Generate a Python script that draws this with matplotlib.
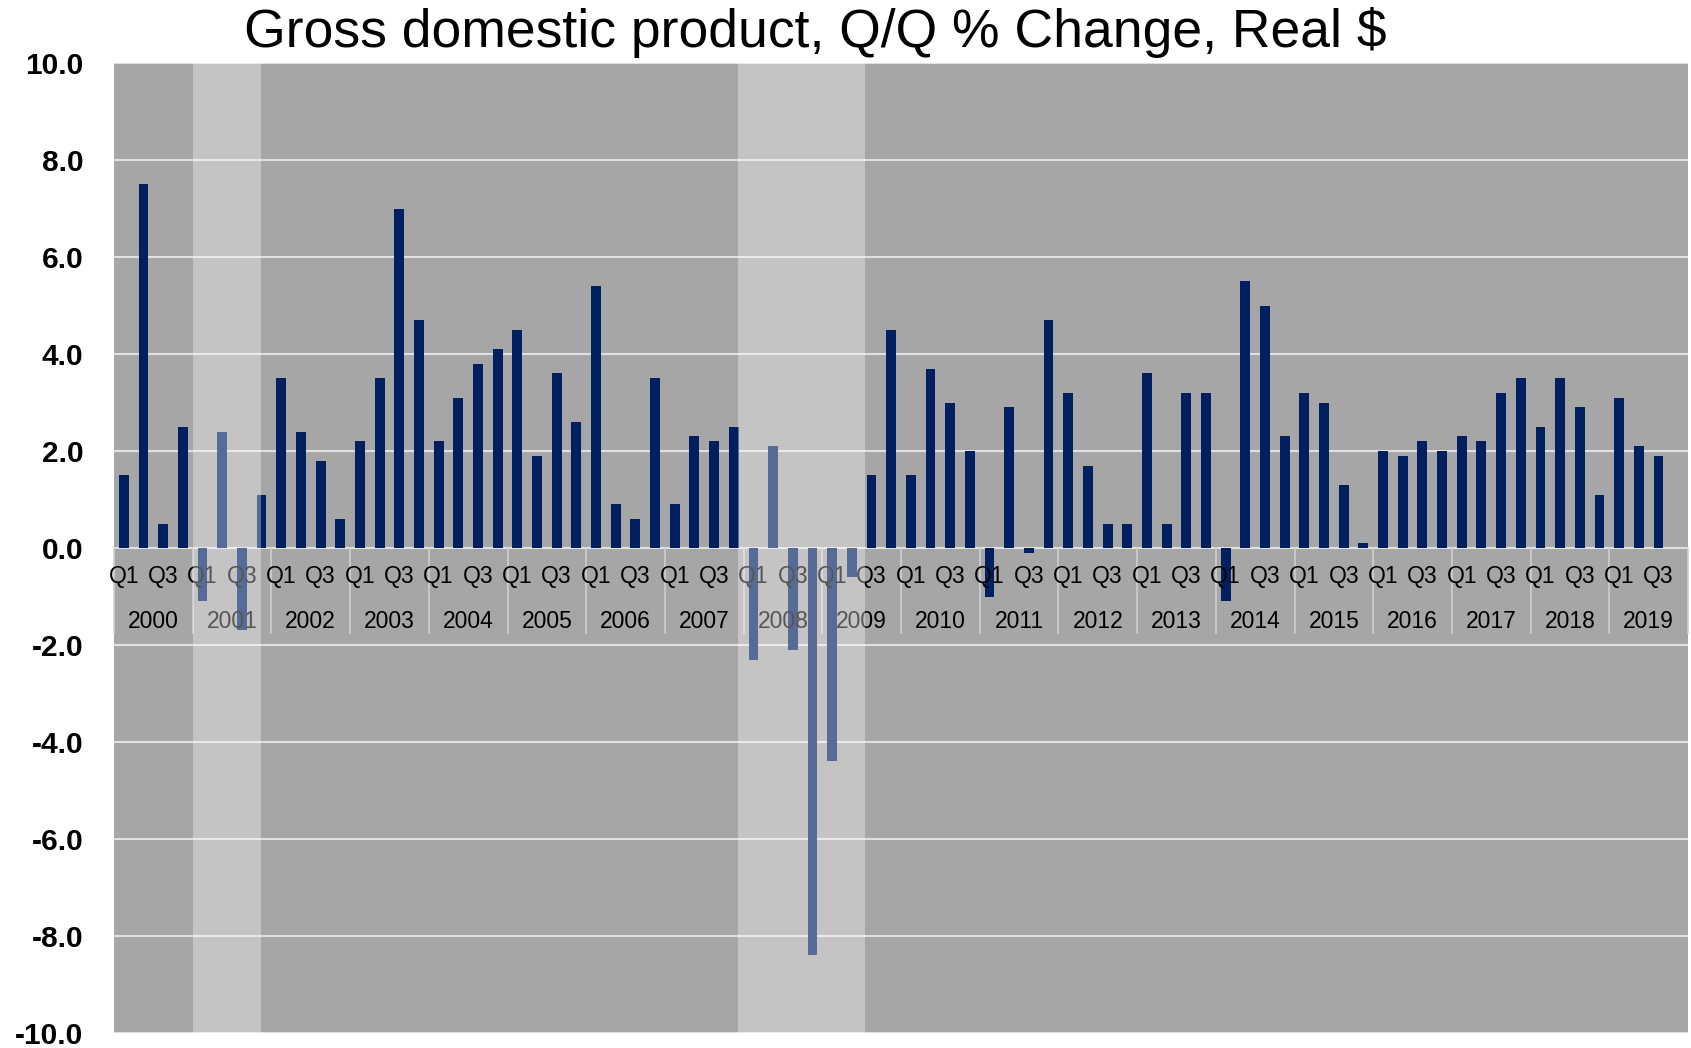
import matplotlib
matplotlib.use("Agg")
import matplotlib.pyplot as plt
import numpy as np

plt.rcParams['font.family'] = ['Liberation Sans', 'DejaVu Sans']

# GDP growth, Q/Q % change (annualized), 2000 Q1 .. 2019 Q3
years = list(range(2000, 2020))
gdp = [1.5, 7.5, 0.5, 2.5,
       -1.1, 2.4, -1.7, 1.1,
       3.5, 2.4, 1.8, 0.6,
       2.2, 3.5, 7.0, 4.7,
       2.2, 3.1, 3.8, 4.1,
       4.5, 1.9, 3.6, 2.6,
       5.4, 0.9, 0.6, 3.5,
       0.9, 2.3, 2.2, 2.5,
       -2.3, 2.1, -2.1, -8.4,
       -4.4, -0.6, 1.5, 4.5,
       1.5, 3.7, 3.0, 2.0,
       -1.0, 2.9, -0.1, 4.7,
       3.2, 1.7, 0.5, 0.5,
       3.6, 0.5, 3.2, 3.2,
       -1.1, 5.5, 5.0, 2.3,
       3.2, 3.0, 1.3, 0.1,
       2.0, 1.9, 2.2, 2.0,
       2.3, 2.2, 3.2, 3.5,
       2.5, 3.5, 2.9, 1.1,
       3.1, 2.1, 1.9]
quarter_labels = ['Q1', '', 'Q3', '']
# recession periods as fractional years
recessions = [(2001.0, 2001.865), (2007.93, 2009.54)]

n_slots = len(years) * 4
x = np.arange(len(gdp))

fig = plt.figure(figsize=(16.91, 10.48), dpi=100)
ax = fig.add_axes([114 / 1691, 15 / 1048, 1574 / 1691, 970 / 1048])
ax.set_facecolor('#a6a6a6')

ax.bar(x, gdp, width=0.5, color='#002060', zorder=3)

ax.set_xlim(-0.5, n_slots - 0.5)
ax.set_ylim(-10, 10)
ax.set_yticks(np.arange(-10, 10.1, 2))
ax.set_yticklabels([f"{v:.1f}" for v in np.arange(-10, 10.1, 2)],
                   fontsize=21.5, fontweight='bold')
ax.tick_params(axis='y', length=0, pad=22)
ax.set_xticks([])
ax.yaxis.grid(True, color='#e0e0e0', linewidth=1.5, zorder=1)
ax.set_axisbelow(True)
for s in ax.spines.values():
    s.set_visible(False)

# category axis drawn at the zero line
for k in range(len(years) + 1):
    ax.plot([4 * k - 0.5, 4 * k - 0.5], [0, -1.75], color='#d0d0d0',
            linewidth=1.2, zorder=2, clip_on=False)
for i in range(n_slots):
    lab = quarter_labels[i % 4]
    if lab and i < len(gdp):
        ax.text(i, -0.58, lab, ha='center', va='center', fontsize=16.5,
                color='black', zorder=4)
for k, yr in enumerate(years):
    ax.text(4 * k + 1.5, -1.51, str(yr), ha='center', va='center',
            fontsize=16.5, color='black', zorder=4)

# recession shading over everything
for start, end in recessions:
    x0 = (start - 2000) * 4 - 0.5
    x1 = (end - 2000) * 4 - 0.5
    ax.axvspan(x0, x1, color='white', alpha=0.34, linewidth=0, zorder=10)

fig.text(815 / 1691, 1 - 46.7 / 1048, "Gross domestic product, Q/Q % Change, Real $",
         ha='center', va='baseline', fontsize=38.5)

fig.savefig('out.png', dpi=100)
